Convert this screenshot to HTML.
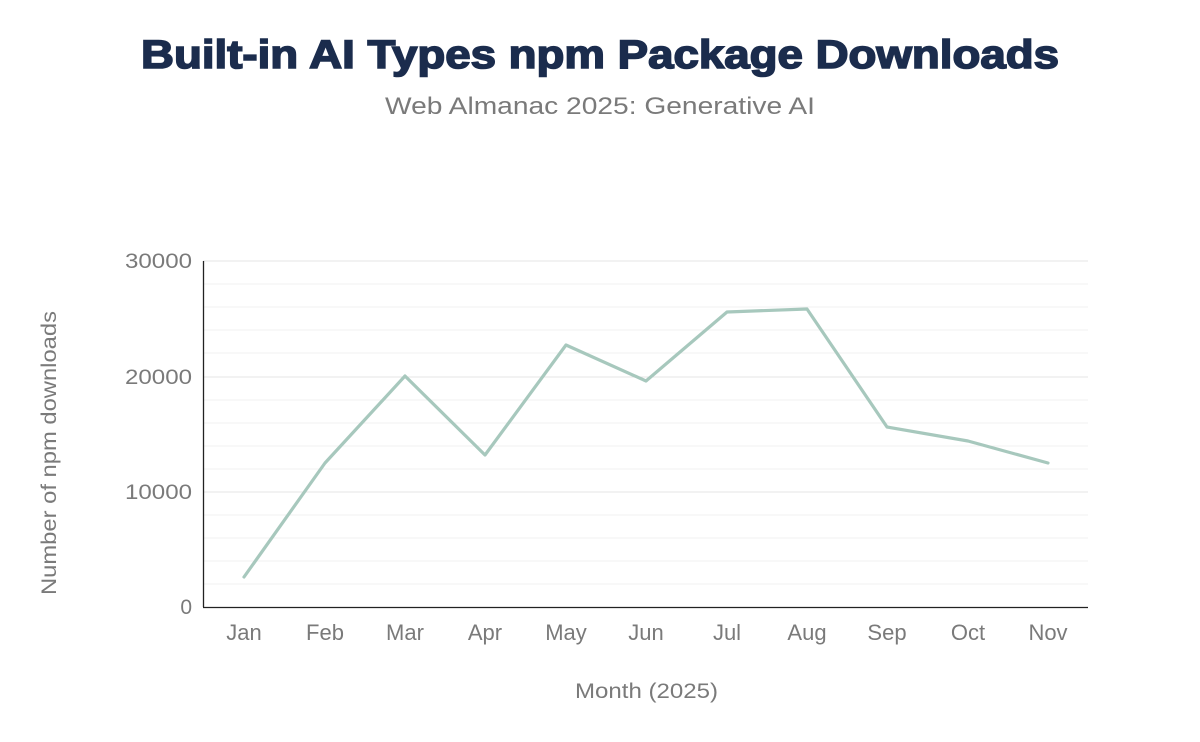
<!DOCTYPE html>
<html><head><meta charset="utf-8"><style>
html,body{margin:0;padding:0;background:#fff;}
svg{display:block;font-family:"Liberation Sans",Arial,sans-serif;}
</style></head><body>
<svg width="1200" height="742" viewBox="0 0 1200 742">
<rect width="1200" height="742" fill="#fff"/>
<text x="141" y="68" textLength="918" lengthAdjust="spacingAndGlyphs" font-size="40" font-weight="900" fill="#1b2c4d" stroke="#1b2c4d" stroke-width="1.6">Built-in AI Types npm Package Downloads</text>
<text x="385" y="114" textLength="430" lengthAdjust="spacingAndGlyphs" font-size="24" fill="#7a7a7a">Web Almanac 2025: Generative AI</text>
<g stroke="#f0f0f0" stroke-width="1">
<line x1="203" x2="1088" y1="284" y2="284"/><line x1="203" x2="1088" y1="307" y2="307"/>
<line x1="203" x2="1088" y1="330" y2="330"/><line x1="203" x2="1088" y1="353" y2="353"/>
<line x1="203" x2="1088" y1="400" y2="400"/><line x1="203" x2="1088" y1="423" y2="423"/>
<line x1="203" x2="1088" y1="446" y2="446"/><line x1="203" x2="1088" y1="469" y2="469"/>
<line x1="203" x2="1088" y1="515" y2="515"/><line x1="203" x2="1088" y1="538" y2="538"/>
<line x1="203" x2="1088" y1="561" y2="561"/><line x1="203" x2="1088" y1="584" y2="584"/>
</g>
<g stroke="#e4e4e4" stroke-width="1">
<line x1="203" x2="1088" y1="261" y2="261"/><line x1="203" x2="1088" y1="377" y2="377"/><line x1="203" x2="1088" y1="492" y2="492"/>
</g>
<line x1="203.5" x2="203.5" y1="261" y2="607" stroke="#222" stroke-width="1.3"/>
<line x1="203" x2="1088" y1="607.5" y2="607.5" stroke="#222" stroke-width="1.3"/>
<g font-size="21" fill="#7a7a7a" text-anchor="end">
<text x="192" y="268" textLength="67" lengthAdjust="spacingAndGlyphs">30000</text>
<text x="192" y="384" textLength="67" lengthAdjust="spacingAndGlyphs">20000</text>
<text x="192" y="499" textLength="67" lengthAdjust="spacingAndGlyphs">10000</text>
<text x="192" y="614">0</text>
</g>
<g font-size="22" fill="#7a7a7a" text-anchor="middle">
<text x="244" y="640">Jan</text><text x="325" y="640">Feb</text><text x="405" y="640">Mar</text><text x="485" y="640">Apr</text>
<text x="566" y="640">May</text><text x="646" y="640">Jun</text><text x="727" y="640">Jul</text><text x="807" y="640">Aug</text>
<text x="887" y="640">Sep</text><text x="968" y="640">Oct</text><text x="1048" y="640">Nov</text>
</g>
<g font-size="21" fill="#7a7a7a">
<text x="575" y="698" textLength="143" lengthAdjust="spacingAndGlyphs">Month (2025)</text>
<text transform="translate(56,595) rotate(-90)" textLength="284" lengthAdjust="spacingAndGlyphs">Number of npm downloads</text>
</g>
<polyline fill="none" stroke="#a7c8bd" stroke-width="3.2" stroke-linejoin="round" stroke-linecap="round"
points="244,577 325,463 405,376 485,455 566,345 646,381 727,312 807,309 887,427 968,441 1048,463"/>
</svg>
</body></html>
